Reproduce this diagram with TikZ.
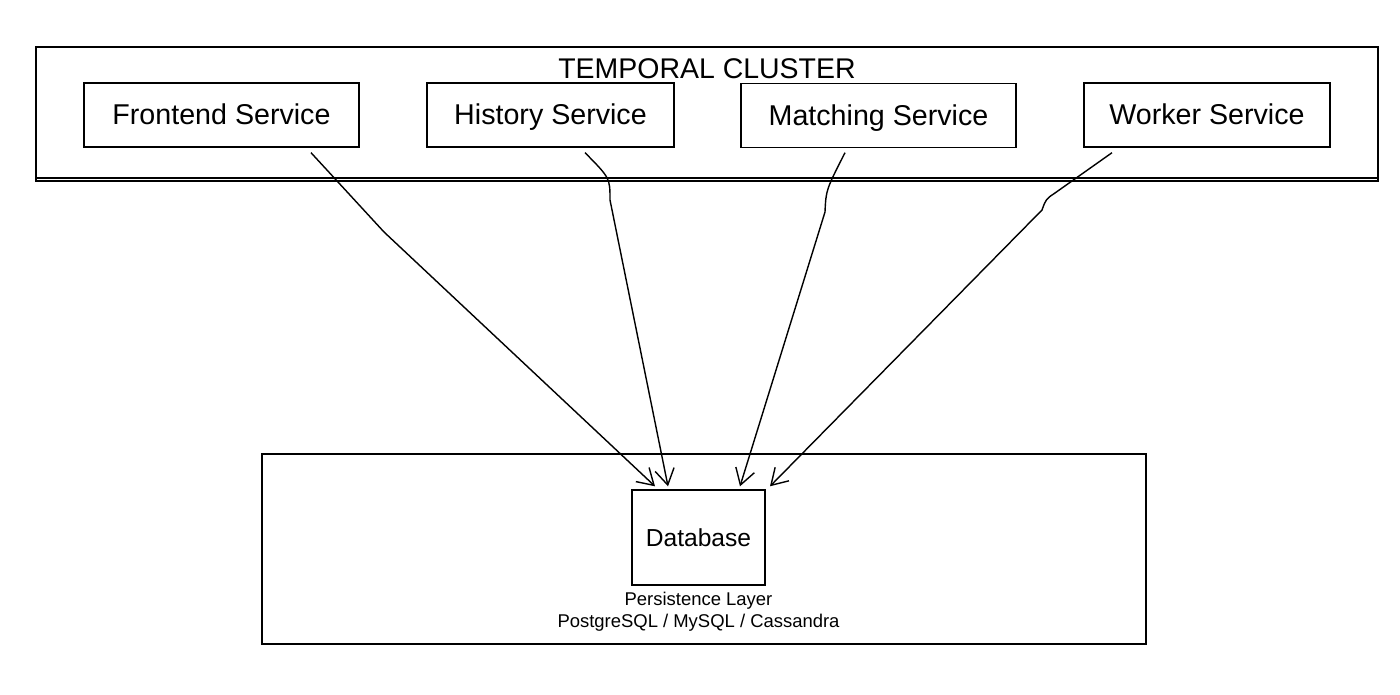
\documentclass[tikz,border=0pt]{standalone}
\usepackage{fontspec}
\setmainfont{Liberation Sans}
\usetikzlibrary{arrows.meta,calc,positioning}

\tikzset{
  svc/.style={draw,line width=0.8pt,minimum width=#1,minimum height=1.28cm,inner sep=0pt,text height=12.5pt,text depth=1.6pt,font=\fontsize{16.3}{19}\selectfont},
  arr/.style={line width=0.8pt,-{Straight Barb[length=9pt,width=11pt]}}
}

\begin{document}
\begin{tikzpicture}[x=0.02cm,y=-0.02cm]
  \useasboundingbox (0,0) rectangle (1400,695);
  % cluster and persistence frames
  \draw[line width=0.9pt] (36,47) rectangle (1378,181); \draw[line width=0.6pt] (36,178) -- (1378,178);
  \node[font=\fontsize{16.2}{19}\selectfont] (title) at (707,69) {TEMPORAL CLUSTER};
  \draw[line width=0.9pt] (262,454) rectangle (1146,644);
  % services
  \node[svc=5.5cm] (fe) at (221.5,115) {Frontend Service};
  \node[svc=4.94cm] (hi) at (550.5,115) {History Service};
  \node[svc=5.5cm] (ma) at (878.5,115.5) {Matching Service};
  \node[svc=4.92cm] (wo) at (1207,115) {Worker Service};
  % database
  \node[draw,line width=0.8pt,minimum width=2.66cm,minimum height=1.9cm,inner sep=0pt,font=\fontsize{14}{17}\selectfont] (db) at (698.5,537.5) {Database};
  \node[font=\fontsize{10.5}{12.5}\selectfont,align=center,below=0cm of db] (pl) {Persistence Layer\\PostgreSQL / MySQL / Cassandra};
  % connectors
  \coordinate (s1) at ($(fe.south)+(89.5,5)$); \coordinate (s2) at ($(hi.south)+(34.5,5)$);
  \coordinate (s3) at ($(ma.south)+(-33.5,4.5)$); \coordinate (s4) at ($(wo.south)+(-95,5)$);
  \coordinate (e1) at ($(db.north)+(-43.5,-3)$); \coordinate (e2) at ($(db.north)+(-30.5,-3)$);
  \coordinate (e3) at ($(db.north)+(41.5,-3)$); \coordinate (e4) at ($(db.north)+(71.5,-3)$);
  \draw[arr] (s1) -- (384,232) -- (e1);
  \draw[arr] (s2) .. controls (610,178) .. (610,200) -- (e2);
  \draw[arr] (s3) .. controls (826,190) .. (825,212) -- (e3);
  \draw[arr] (s4) -- (1055,193) .. controls (1046,199) .. (1042,210) -- (e4);
\end{tikzpicture}
\end{document}
